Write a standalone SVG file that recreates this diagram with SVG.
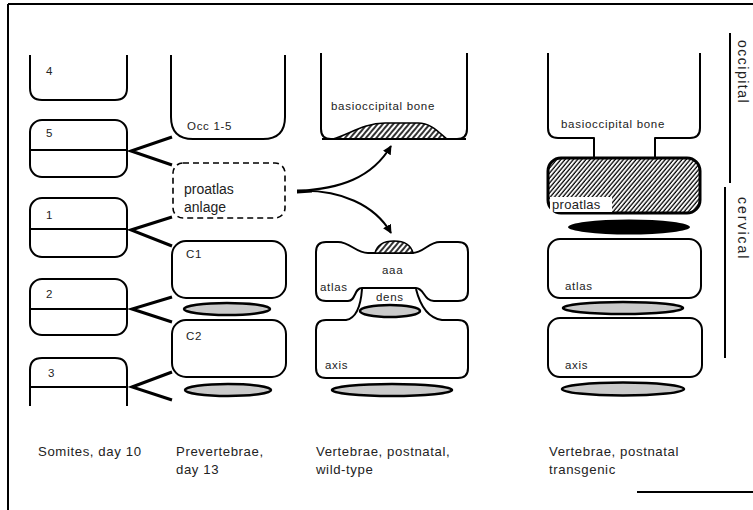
<svg xmlns="http://www.w3.org/2000/svg" width="753" height="510" viewBox="0 0 753 510">
<style>
.s{fill:#fff;stroke:#000;stroke-width:2;stroke-linejoin:round}
.o{fill:none;stroke:#000;stroke-width:2;stroke-linejoin:round}
.t{font-family:"Liberation Sans",Arial,sans-serif;font-size:11.5px;letter-spacing:0.7px;fill:#222}
.L{font-family:"Liberation Sans",Arial,sans-serif;font-size:13.2px;letter-spacing:0.6px;fill:#222}
.B{font-family:"Liberation Sans",Arial,sans-serif;font-size:14px;fill:#222}
.g{fill:#cacaca;stroke:#000;stroke-width:2.5}
.ch{fill:none;stroke:#000;stroke-width:3;stroke-linejoin:miter}
</style>
<defs>
<pattern id="h" width="4" height="4" patternUnits="userSpaceOnUse" patternTransform="rotate(40)">
<rect width="4" height="4" fill="#fff"/><line x1="1" y1="0" x2="1" y2="4" stroke="#000" stroke-width="1.6"/>
</pattern>
<pattern id="h2" width="3.2" height="3.2" patternUnits="userSpaceOnUse" patternTransform="rotate(40)">
<rect width="4" height="4" fill="#fff"/><line x1="1" y1="0" x2="1" y2="4" stroke="#000" stroke-width="1.3"/>
</pattern>
<marker id="ar" viewBox="0 0 10 10" refX="9" refY="5" markerWidth="9" markerHeight="9" orient="auto" markerUnits="userSpaceOnUse">
<path d="M0,0 L10,5 L0,10 Z" fill="#000"/>
</marker>
</defs>

<!-- frame -->
<g id="frame">
<line x1="8" y1="4" x2="753" y2="4" stroke="#000" stroke-width="2"/>
<line x1="8" y1="4" x2="8" y2="510" stroke="#000" stroke-width="2"/>
<line x1="637" y1="492" x2="753" y2="492" stroke="#000" stroke-width="2"/>
</g>

<!-- somites -->
<g id="somite4"><path class="o" d="M30,55 L30,88 Q30,100 42,100 L115,100 Q127,100 127,88 L127,55"/><text class="t" x="46" y="75">4</text></g>
<g id="somite5"><rect class="s" x="30" y="120" width="97" height="57" rx="12"/><line class="o" x1="30" y1="150" x2="127" y2="150"/><text class="t" x="46" y="137">5</text></g>
<g id="somite1"><rect class="s" x="30" y="198" width="97" height="59" rx="12"/><line class="o" x1="30" y1="229" x2="127" y2="229"/><text class="t" x="46" y="219">1</text></g>
<g id="somite2"><rect class="s" x="30" y="279" width="97" height="56" rx="12"/><line class="o" x1="30" y1="309" x2="127" y2="309"/><text class="t" x="46" y="298">2</text></g>
<g id="somite3"><path class="o" d="M30,406 L30,370 Q30,358 42,358 L115,358 Q127,358 127,370 L127,406"/><line class="o" x1="30" y1="387" x2="127" y2="387"/><text class="t" x="48" y="377">3</text></g>

<!-- prevertebrae -->
<g id="occ"><path class="o" d="M171,55 L171,117 Q171,139 193,139 L263,139 Q285,139 285,117 L285,55"/><text class="t" x="187" y="130">Occ 1-5</text></g>
<g id="anlage"><rect x="173" y="163" width="112" height="55" rx="10" fill="#fff" stroke="#000" stroke-width="1.6" stroke-dasharray="6,4"/><text class="B" x="184" y="194">proatlas</text><text class="B" x="184" y="212">anlage</text></g>
<g id="c1"><rect class="s" x="172" y="241" width="114" height="57" rx="14"/><text class="t" x="186" y="258">C1</text></g>
<ellipse class="g" cx="227" cy="309" rx="43" ry="6"/>
<g id="c2"><rect class="s" x="172" y="320" width="114" height="57" rx="14"/><text class="t" x="186" y="340">C2</text></g>
<ellipse class="g" cx="228" cy="390" rx="43" ry="6"/>

<!-- wild-type -->
<g id="wt-basi"><path class="o" d="M321,53 L321,129 Q321,139 331,139 L457,139 Q467,139 467,129 L467,53"/>
<path d="M333,139 C350,134 364,123 385,123 L418,123 C432,123 440,134 447,139 Z" fill="url(#h)" stroke="#000" stroke-width="1.5"/>
<line x1="322" y1="139" x2="466" y2="139" stroke="#000" stroke-width="2"/>
<text class="t" x="331" y="110">basioccipital bone</text></g>

<g id="wt-axis"><path class="s" d="M362,289 C361,303 358,318 346,320 L326,320 Q316,320 316,330 L316,368 Q316,378 326,378 L458,378 Q468,378 468,368 L468,330 Q468,320 458,320 L442,320 C428,318 420,305 416,289"/>
<text class="t" x="325" y="369">axis</text></g>
<ellipse class="g" cx="390" cy="311" rx="30" ry="6"/>
<g id="wt-atlas"><path class="s" d="M326,242 L338,242 C350,242 356,253 368,253 L412,253 C424,253 428,242 440,242 L458,242 Q468,242 468,252 L468,291 Q468,301 458,301 L434,301 C424,301 424,288 416,288 L362,288 C354,288 356,301 348,301 L326,301 Q316,301 316,291 L316,252 Q316,242 326,242 Z"/>
<path d="M375,253 C377,245 384,241 394,241 C404,241 411,245 413,253 Z" fill="url(#h)" stroke="#000" stroke-width="1.5"/>
<text class="t" x="382" y="274">aaa</text><text class="t" x="320" y="291">atlas</text><text class="t" x="376" y="301">dens</text></g>
<ellipse class="g" cx="392" cy="390" rx="60" ry="6"/>

<!-- transgenic -->
<g id="tg-basi"><path class="o" d="M548,53 L548,128 Q548,138 558,138 L594,138 L594,158 M655,158 L655,138 L690,138 Q700,138 700,128 L700,53"/>
<text class="t" x="561" y="128">basioccipital bone</text></g>
<g id="tg-proatlas"><rect x="548" y="158" width="152" height="55" rx="13" fill="url(#h2)" stroke="#000" stroke-width="3"/>
<rect x="550" y="197" width="62" height="15" fill="#fff"/><text class="B" x="552" y="209" style="font-size:13px;letter-spacing:0.3px">proatlas</text></g>
<ellipse cx="629" cy="227" rx="61" ry="7.5" fill="#000"/>
<g id="tg-atlas"><rect class="s" x="548" y="239" width="153" height="59" rx="12"/><text class="t" x="565" y="290">atlas</text></g>
<ellipse class="g" cx="623" cy="308" rx="60" ry="6"/>
<g id="tg-axis"><rect class="s" x="548" y="318" width="154" height="59" rx="12"/><text class="t" x="565" y="369">axis</text></g>
<ellipse class="g" cx="623" cy="389" rx="61" ry="6.5"/>

<!-- regions -->
<g id="regions">
<line x1="730" y1="33" x2="730" y2="183" stroke="#000" stroke-width="2"/>
<line x1="725" y1="187" x2="725" y2="358" stroke="#000" stroke-width="2"/>
<text class="B" transform="translate(738,40) rotate(90)" style="letter-spacing:1.5px">occipital</text>
<text class="B" transform="translate(738,197) rotate(90)" style="letter-spacing:2px">cervical</text>
</g>

<!-- connectors -->
<g id="connectors">
<polyline class="ch" points="172,137 131,151 172,165"/>
<polyline class="ch" points="172,217 131,230 172,246"/>
<polyline class="ch" points="172,297 132,309 172,322"/>
<polyline class="ch" points="172,372 132,387 172,400"/>
<path d="M297,191 C340,189 372,178 391,146" fill="none" stroke="#000" stroke-width="2" marker-end="url(#ar)"/>
<path d="M297,191 C340,189 375,205 391,233" fill="none" stroke="#000" stroke-width="2" marker-end="url(#ar)"/>
<path d="M297,189.5 L312,190 L312,192.5 L297,193.5 Z" fill="#000"/>
</g>

<!-- captions -->
<g id="captions">
<text class="L" x="38" y="456">Somites, day 10</text>
<text class="L" x="176" y="456">Prevertebrae,</text>
<text class="L" x="176" y="474">day 13</text>
<text class="L" x="316" y="456">Vertebrae, postnatal,</text>
<text class="L" x="316" y="474">wild-type</text>
<text class="L" x="549" y="456">Vertebrae, postnatal</text>
<text class="L" x="549" y="474">transgenic</text>
</g>
</svg>
